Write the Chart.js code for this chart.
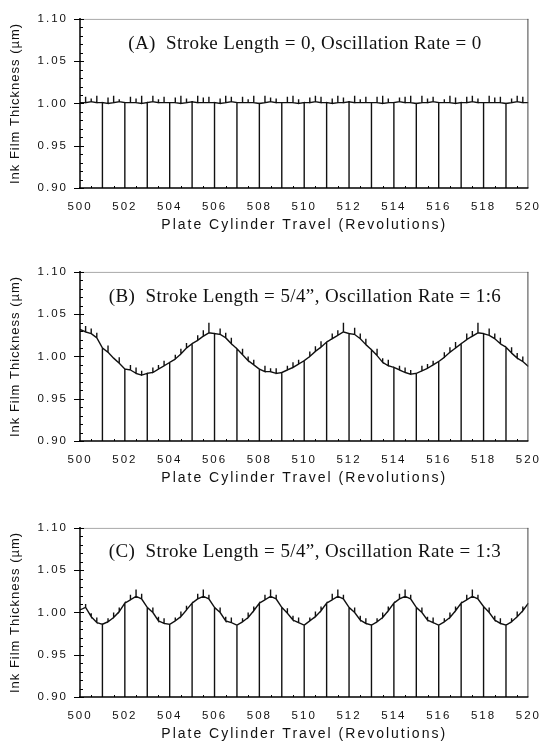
<!DOCTYPE html>
<html>
<head>
<meta charset="utf-8">
<script src="https://cdn.jsdelivr.net/npm/chart.js@4"></script>
<style>
  html, body { margin: 0; padding: 0; background: #fff; width: 550px; height: 743px; overflow: hidden; }
  .panel { position: absolute; left: 0; width: 550px; height: 240px; }
  .lbl { position: absolute; left: 0; width: 610px; text-align: center; white-space: pre; line-height: 22px;
         font-family: "Liberation Serif", "Times New Roman", serif; font-size: 19px; letter-spacing: 0.4px; color: #111; }
</style>
</head>
<body>
<div class="panel" style="top:0px"><canvas id="cA" width="550" height="240"></canvas></div>
<div class="panel" style="top:253px"><canvas id="cB" width="550" height="240"></canvas></div>
<div class="panel" style="top:509px"><canvas id="cC" width="550" height="240"></canvas></div>
<div class="lbl" style="top:32px">(A)  Stroke Length = 0, Oscillation Rate = 0</div>
<div class="lbl" style="top:285px">(B)  Stroke Length = 5/4”, Oscillation Rate = 1:6</div>
<div class="lbl" style="top:540px">(C)  Stroke Length = 5/4”, Oscillation Rate = 1:3</div>
<script>
// ---- data ----
const revs = [
  500, 500.25, 500.5, 500.75, 501, 501.25, 501.5, 501.75, 502, 502.25, 502.5, 502.75,
  503, 503.25, 503.5, 503.75, 504, 504.25, 504.5, 504.75, 505, 505.25, 505.5, 505.75,
  506, 506.25, 506.5, 506.75, 507, 507.25, 507.5, 507.75, 508, 508.25, 508.5, 508.75,
  509, 509.25, 509.5, 509.75, 510, 510.25, 510.5, 510.75, 511, 511.25, 511.5, 511.75,
  512, 512.25, 512.5, 512.75, 513, 513.25, 513.5, 513.75, 514, 514.25, 514.5, 514.75,
  515, 515.25, 515.5, 515.75, 516, 516.25, 516.5, 516.75, 517, 517.25, 517.5, 517.75,
  518, 518.25, 518.5, 518.75, 519, 519.25, 519.5, 519.75, 520
];
const gapRevs = [501, 502, 503, 504, 505, 506, 507, 508, 509, 510, 511, 512, 513, 514, 515, 516, 517, 518, 519];
const gapFloor = 0.90;

const valsA = [
  1.001,1.001,1.002,1.001, 1.001,1.000,1.001,1.002, 1.001,1.001,1.001,1.000,
  1.001,1.002,1.001,1.001, 1.001,1.001,1.000,1.001, 1.002,1.001,1.001,1.001,
  1.001,1.000,1.001,1.002, 1.001,1.001,1.001,1.001, 1.000,1.001,1.002,1.001,
  1.001,1.001,1.001,1.000, 1.001,1.001,1.002,1.001, 1.001,1.000,1.001,1.001,
  1.002,1.001,1.001,1.001, 1.001,1.001,1.000,1.001, 1.001,1.002,1.001,1.001,
  1.000,1.001,1.001,1.002, 1.001,1.001,1.001,1.000, 1.001,1.001,1.002,1.001,
  1.001,1.001,1.001,1.001, 1.000,1.001,1.002,1.001, 1.001
];
const valsB = [
  1.032,1.029,1.027,1.022, 1.010,1.005,0.998,0.992, 0.985,0.984,0.980,0.978,
  0.980,0.981,0.985,0.989, 0.993,0.997,1.003,1.010, 1.015,1.019,1.024,1.028,
  1.027,1.026,1.022,1.015, 1.009,1.002,0.995,0.990, 0.985,0.982,0.982,0.980,
  0.981,0.984,0.987,0.991, 0.995,1.000,1.006,1.011, 1.017,1.021,1.025,1.029,
  1.027,1.026,1.021,1.014, 1.008,1.001,0.993,0.989, 0.987,0.984,0.981,0.979,
  0.980,0.983,0.986,0.990, 0.994,0.999,1.005,1.010, 1.015,1.020,1.024,1.028,
  1.027,1.025,1.021,1.015, 1.011,1.004,0.998,0.994, 0.988
];
const valsC = [
  1.003,1.006,0.995,0.988, 0.986,0.989,0.994,1.001, 1.011,1.015,1.019,1.016,
  1.006,1.000,0.990,0.987, 0.986,0.990,0.995,1.003, 1.011,1.016,1.019,1.016,
  1.006,1.000,0.990,0.988, 0.985,0.989,0.994,1.002, 1.011,1.015,1.019,1.016,
  1.006,0.999,0.991,0.988, 0.985,0.990,0.995,1.002, 1.011,1.015,1.019,1.016,
  1.006,1.000,0.991,0.987, 0.985,0.989,0.994,1.002, 1.011,1.016,1.019,1.016,
  1.006,1.000,0.991,0.988, 0.985,0.989,0.994,1.002, 1.011,1.015,1.019,1.016,
  1.007,1.000,0.991,0.987, 0.985,0.989,0.995,1.002, 1.011
];

// spikes (noise excursions): [revolution, excursion value]
const spikesA = [
  [500.25,1.008],[500.5,1.006],[500.75,1.009],[501.25,1.007],[501.5,1.009],[501.75,1.005],
  [502.25,1.008],[502.5,1.006],[502.75,1.009],[503.25,1.009],[503.5,1.005],[503.75,1.008],
  [504.25,1.007],[504.5,1.009],[504.75,1.006],[505.25,1.009],[505.5,1.007],[505.75,1.008],
  [506.25,1.006],[506.5,1.009],[506.75,1.008],[507.25,1.008],[507.5,1.005],[507.75,1.009],
  [508.25,1.009],[508.5,1.007],[508.75,1.006],[509.25,1.008],[509.5,1.009],[509.75,1.005],
  [510.25,1.007],[510.5,1.009],[510.75,1.008],[511.25,1.006],[511.5,1.009],[511.75,1.007],
  [512.25,1.009],[512.5,1.005],[512.75,1.008],[513.25,1.008],[513.5,1.009],[513.75,1.006],
  [514.25,1.007],[514.5,1.008],[514.75,1.009],[515.25,1.009],[515.5,1.006],[515.75,1.008],
  [516.25,1.005],[516.5,1.009],[516.75,1.007],[517.25,1.008],[517.5,1.009],[517.75,1.006],
  [518.25,1.009],[518.5,1.007],[518.75,1.008],[519.25,1.006],[519.5,1.009],[519.75,1.008]
];
const spikesB = [
  [500.25,1.036],[500.5,1.033],[500.75,1.028],[501.25,1.013],[501.75,0.999],[502.25,0.990],
  [502.5,0.987],[502.75,0.983],[503.25,0.987],[503.5,0.990],[503.75,0.995],[504.25,1.002],
  [504.5,1.009],[504.75,1.016],[505.25,1.025],[505.5,1.031],[505.75,1.040],[506.25,1.033],
  [506.5,1.028],[506.75,1.022],[507.25,1.009],[507.5,1.000],[507.75,0.996],[508.25,0.989],
  [508.5,0.986],[508.75,0.986],[509.25,0.989],[509.5,0.993],[509.75,0.996],[510.25,1.006],
  [510.5,1.012],[510.75,1.018],[511.25,1.027],[511.5,1.031],[511.75,1.040],[512.25,1.034],
  [512.5,1.027],[512.75,1.021],[513.25,1.009],[513.5,0.998],[513.75,0.996],[514.25,0.989],
  [514.5,0.987],[514.75,0.984],[515.25,0.989],[515.5,0.991],[515.75,0.995],[516.25,1.005],
  [516.5,1.011],[516.75,1.017],[517.25,1.027],[517.5,1.030],[517.75,1.040],[518.25,1.033],
  [518.5,1.027],[518.75,1.022],[519.25,1.011],[519.5,1.004],[519.75,1.000]
];
const spikesC = [
  [500.25,1.010],[500.5,0.999],[500.75,0.994],[501.25,0.993],[501.5,1.000],[501.75,1.006],
  [502.25,1.021],[502.5,1.027],[502.75,1.022],[503.25,1.006],[503.5,0.995],[503.75,0.993],
  [504.25,0.994],[504.5,1.001],[504.75,1.008],[505.25,1.022],[505.5,1.027],[505.75,1.021],
  [506.25,1.006],[506.5,0.995],[506.75,0.994],[507.25,0.993],[507.5,1.000],[507.75,1.007],
  [508.25,1.021],[508.5,1.027],[508.75,1.021],[509.25,1.005],[509.5,0.996],[509.75,0.994],
  [510.25,0.994],[510.5,1.001],[510.75,1.007],[511.25,1.022],[511.5,1.027],[511.75,1.021],
  [512.25,1.006],[512.5,0.996],[512.75,0.993],[513.25,0.993],[513.5,1.000],[513.75,1.007],
  [514.25,1.022],[514.5,1.027],[514.75,1.021],[515.25,1.006],[515.5,0.995],[515.75,0.994],
  [516.25,0.993],[516.5,1.000],[516.75,1.007],[517.25,1.021],[517.5,1.027],[517.75,1.021],
  [518.25,1.006],[518.5,0.996],[518.75,0.993],[519.25,0.993],[519.5,1.001],[519.75,1.007]
];

const xTitle = 'Plate Cylinder Travel (Revolutions)';
const yTitle = 'Ink Film Thickness (\u00b5m)';

// ---- build the line table from the arrays ----
function buildPoints(vals, spikes) {
  const pts = [];
  revs.forEach((x, i) => {
    const v = vals[i];
    pts.push({x: x, y: v});
    if (gapRevs.includes(x)) { pts.push({x: x, y: gapFloor}); pts.push({x: x, y: v}); }
    const s = spikes.find(p => p[0] === x);
    if (s) { pts.push({x: x, y: s[1]}); pts.push({x: x, y: v}); }
  });
  return pts;
}

const framePlugin = {
  id: 'frame',
  beforeDraw(chart) { chart.ctx.letterSpacing = '2px'; },
  afterDraw(chart) {
    const {ctx, chartArea: a, scales: {x, y}} = chart;
    ctx.save();
    ctx.letterSpacing = '0px';
    ctx.lineWidth = 1;
    ctx.strokeStyle = '#a8a8a8';
    ctx.beginPath(); ctx.moveTo(a.left, a.top + 0.5); ctx.lineTo(a.right, a.top + 0.5); ctx.stroke();
    ctx.strokeStyle = '#444';
    ctx.beginPath(); ctx.moveTo(a.right - 0.5, a.top); ctx.lineTo(a.right - 0.5, a.bottom); ctx.stroke();
    ctx.strokeStyle = '#000';
    ctx.lineWidth = 1.5;
    ctx.beginPath(); ctx.moveTo(a.left, a.top - 1); ctx.lineTo(a.left, a.bottom + 1);
    ctx.moveTo(a.left - 1, a.bottom); ctx.lineTo(a.right, a.bottom); ctx.stroke();
    ctx.lineWidth = 1;
    ctx.beginPath();
    for (let k = 0; k <= 20; k++) {
      const py = Math.round(y.getPixelForValue(y.min + k * 0.01)) + 0.5;
      ctx.moveTo(a.left, py); ctx.lineTo(a.left + 3, py);
    }
    y.ticks.forEach(t => {
      const py = Math.round(y.getPixelForValue(t.value)) + 0.5;
      ctx.moveTo(a.left - 6, py); ctx.lineTo(a.left + 4, py);
    });
    for (let k = 0; k < 20; k++) {
      const px = Math.round(x.getPixelForValue(x.min + k + 0.5)) + 0.5;
      ctx.moveTo(px, a.bottom); ctx.lineTo(px, a.bottom - 2);
    }
    ctx.stroke();
    ctx.restore();
  }
};

const sans = '"Liberation Sans", Arial, sans-serif';

function makeChart(id, vals, spikes) {
  return new Chart(document.getElementById(id), {
    type: 'line',
    data: { datasets: [{
      data: buildPoints(vals, spikes),
      borderColor: '#111',
      borderWidth: 1.4,
      pointRadius: 0,
      tension: 0,
      fill: false
    }]},
    options: {
      responsive: false,
      animation: false,
      events: [],
      layout: { padding: { top: 15, left: 0, right: 15, bottom: 0 } },
      plugins: { legend: { display: false }, tooltip: { enabled: false } },
      scales: {
        x: {
          type: 'linear', min: 500, max: 520,
          grid: { display: false, drawTicks: false },
          border: { display: false },
          ticks: { stepSize: 2, padding: 12, color: '#111',
                   font: { family: sans, size: 11.5 }, maxRotation: 0, autoSkip: false },
          title: { display: true, text: xTitle, color: '#111',
                   font: { family: sans, size: 14 }, padding: { top: 0, bottom: 6 } },
          afterFit(s) { s.height = 52; }
        },
        y: {
          type: 'linear', min: 0.90, max: 1.10,
          grid: { display: false, drawTicks: false },
          border: { display: false },
          ticks: { stepSize: 0.05, padding: 12, color: '#111',
                   font: { family: sans, size: 11.5 },
                   callback: v => Number(v).toFixed(2) },
          title: { display: true, text: yTitle, color: '#111',
                   font: { family: sans, size: 13 }, padding: { top: 8, bottom: 0 } },
          afterFit(s) {
            s.width = 80;
            if (!s._spacedTitle) {
              const orig = s.drawTitle;
              s.drawTitle = function () {
                const c = this.ctx;
                c.letterSpacing = '1px';
                orig.apply(this, arguments);
                c.letterSpacing = '2px';
              };
              s._spacedTitle = true;
            }
          }
        }
      }
    },
    plugins: [framePlugin]
  });
}

makeChart('cA', valsA, spikesA);
makeChart('cB', valsB, spikesB);
makeChart('cC', valsC, spikesC);
</script>
</body>
</html>
